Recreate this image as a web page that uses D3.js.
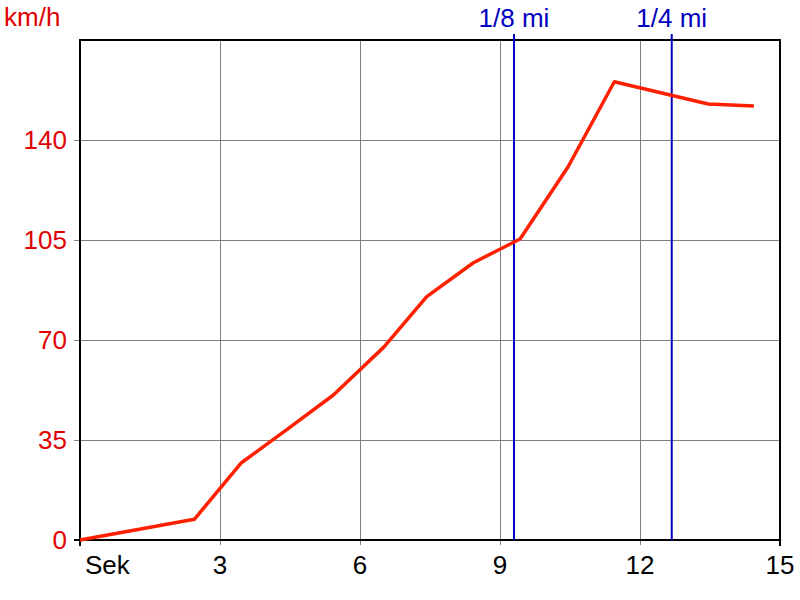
<!DOCTYPE html>
<html><head><meta charset="utf-8">
<script src="https://cdn.jsdelivr.net/npm/d3@7"></script>
<style>body{margin:0;background:#fff}svg{display:block}</style>
</head><body>
<svg id="c" width="800" height="600"></svg>
<script>
const times = [0, 2.45, 3.46, 4.46, 5.43, 6.51, 7.43, 8.43, 9.43, 10.46, 11.45, 13.46, 14.44];
const speeds = [0, 7.25, 27.05, 39.0, 50.75, 67.5, 85.2, 97.05, 105.35, 130.65, 160.4, 152.6, 151.9];
const xTicks = [3, 6, 9, 12, 15];
const yTicks = [0, 35, 70, 105, 140];
const markerTimes = [9.3, 12.68];
const markerLabels = ["1/8 mi", "1/4 mi"];

const svg = d3.select("#c");
const L = 80, R = 780, T = 40, B = 540;
const x = d3.scaleLinear().domain([0, 15]).range([L, R]);
const y = d3.scaleLinear().domain([0, 175]).range([B, T]);
const font = "Liberation Sans, Arial, sans-serif";
const fs = 26;

// grid
svg.append("g").selectAll("line").data(xTicks.filter(d => d < 15)).join("line")
  .attr("x1", d => x(d)).attr("x2", d => x(d)).attr("y1", T).attr("y2", B + 5)
  .attr("stroke", "#808080").attr("stroke-width", 1).attr("shape-rendering", "crispEdges");
svg.append("g").selectAll("line").data(yTicks.filter(d => d > 0)).join("line")
  .attr("x1", L - 6).attr("x2", R).attr("y1", d => y(d)).attr("y2", d => y(d))
  .attr("stroke", "#808080").attr("stroke-width", 1).attr("shape-rendering", "crispEdges");

// frame
svg.append("rect").attr("x", L).attr("y", T).attr("width", R - L).attr("height", B - T)
  .attr("fill", "none").attr("stroke", "#000").attr("stroke-width", 2);
svg.append("line").attr("x1", R).attr("x2", R).attr("y1", B).attr("y2", B + 6).attr("stroke", "#000").attr("stroke-width", 2);
svg.append("line").attr("x1", L).attr("x2", L).attr("y1", B).attr("y2", B + 6).attr("stroke", "#000").attr("stroke-width", 2);
svg.append("line").attr("x1", L - 6).attr("x2", L).attr("y1", B).attr("y2", B).attr("stroke", "#000").attr("stroke-width", 2);

// markers
svg.append("g").selectAll("line").data(markerTimes).join("line")
  .attr("x1", d => x(d)).attr("x2", d => x(d)).attr("y1", T - 6).attr("y2", B)
  .attr("stroke", "#0000c0").attr("stroke-width", 2);
svg.append("g").selectAll("text").data(markerTimes).join("text")
  .attr("x", d => x(d)).attr("y", 27).attr("text-anchor", "middle")
  .attr("font-family", font).attr("font-size", fs).attr("fill", "#0000c0")
  .text((d, i) => markerLabels[i]);

// line
const line = d3.line().x((d, i) => x(times[i])).y(d => y(d));
svg.append("path").datum(speeds).attr("d", line)
  .attr("fill", "none").attr("stroke", "#ff2000").attr("stroke-width", 3.5).attr("stroke-linejoin", "round");

// y labels
svg.append("g").selectAll("text").data(yTicks).join("text")
  .attr("x", 67).attr("y", d => y(d) + 9).attr("text-anchor", "end")
  .attr("font-family", font).attr("font-size", fs).attr("fill", "#e00000")
  .text(d => d);
svg.append("text").attr("x", 4).attr("y", 26).attr("font-family", font).attr("font-size", fs)
  .attr("fill", "#e00000").text("km/h");

// x labels
svg.append("g").selectAll("text").data(xTicks).join("text")
  .attr("x", d => x(d)).attr("y", 574).attr("text-anchor", "middle")
  .attr("font-family", font).attr("font-size", fs).attr("fill", "#000")
  .text(d => d);
svg.append("text").attr("x", 85).attr("y", 574).attr("font-family", font).attr("font-size", fs)
  .attr("fill", "#000").text("Sek");
</script>
</body></html>
